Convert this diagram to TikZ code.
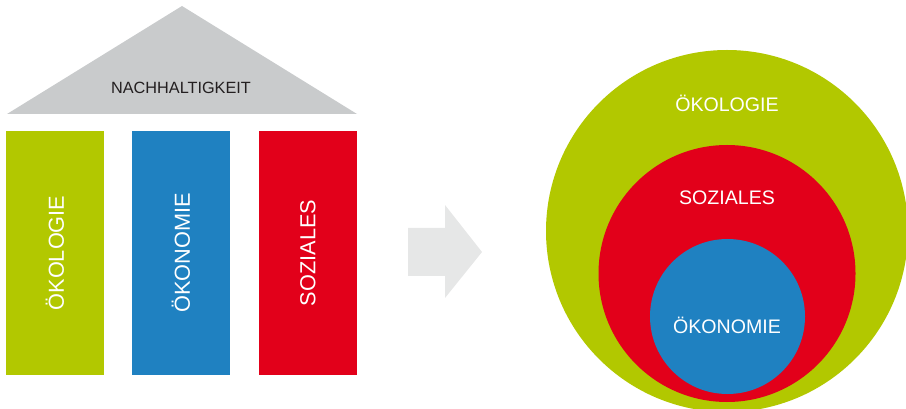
\documentclass[tikz,border=0pt]{standalone}
\usepackage{fontspec}
\setmainfont{Liberation Sans}
\definecolor{ecogreen}{HTML}{B2C800}
\definecolor{econblue}{HTML}{1F81C1}
\definecolor{socred}{HTML}{E2001A}
\definecolor{roofgray}{HTML}{C9CBCC}
\definecolor{arrowgray}{HTML}{E6E7E7}
\definecolor{darktext}{HTML}{231F20}
\tikzset{
  pillar/.style={rectangle, rotate=90, minimum width=183pt, minimum height=73.5pt, inner sep=0pt, outer sep=0pt, text=white, font=\fontsize{16.3pt}{18pt}\selectfont},
  ring/.style={circle, inner sep=0pt, outer sep=0pt},
  ringtext/.style={text=white, inner sep=0pt, font=\fontsize{14.7pt}{17pt}\selectfont},
}
\begin{document}
\begin{tikzpicture}[x=0.75pt,y=-0.75pt]
\useasboundingbox (0,0) rectangle (906,409);
\clip (0,0) rectangle (906,409);
% roof
\fill[roofgray] (7,114) -- (182,6) -- (357,114) -- cycle;
\node[text=darktext, font=\fontsize{12.2pt}{14pt}\selectfont, inner sep=0pt] (roof) at (181,88) {NACHHALTIGKEIT};
% pillars
\node[pillar, fill=ecogreen] (p1) at (55,253) {ÖKOLOGIE};
\node[pillar, fill=econblue] (p2) at (181,253) {ÖKONOMIE};
\node[pillar, fill=socred] (p3) at (308,253) {SOZIALES};
% arrow
\fill[arrowgray] (408,228) -- (445,228) -- (445,205) -- (482,252) -- (445,298) -- (445,276) -- (408,276) -- cycle;
% circles
\node[ring, fill=ecogreen, minimum size=271.5pt] (c1) at (727,231) {};
\node[ring, fill=socred, minimum size=192.75pt] (c2) at (727,273.5) {};
\node[ring, fill=econblue, minimum size=116.25pt] (c3) at (727.5,316.5) {};
\node[ringtext] (t1) at (727,103) {ÖKOLOGIE};
\node[ringtext] (t2) at (727,198) {SOZIALES};
\node[ringtext] (t3) at (727,325) {ÖKONOMIE};
\end{tikzpicture}
\end{document}
